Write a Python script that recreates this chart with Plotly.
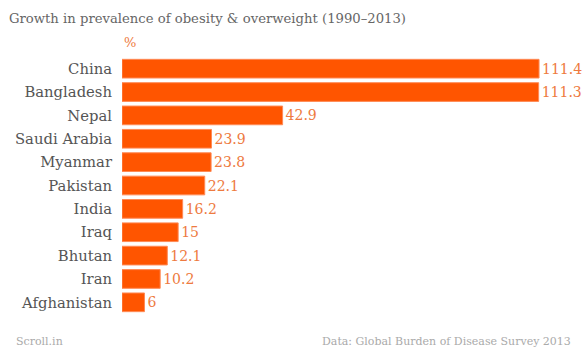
import plotly.graph_objects as go

countries = ["China", "Bangladesh", "Nepal", "Saudi Arabia", "Myanmar", "Pakistan",
             "India", "Iraq", "Bhutan", "Iran", "Afghanistan"]
values = [111.4, 111.3, 42.9, 23.9, 23.8, 22.1, 16.2, 15, 12.1, 10.2, 6]
labels = ["111.4", "111.3", "42.9", "23.9", "23.8", "22.1", "16.2", "15", "12.1", "10.2", "6"]

FONT = "DejaVu Serif"
fig = go.Figure(go.Bar(
    x=values, y=countries, orientation="h",
    marker=dict(color="#FF5500", line=dict(color="#FF8A55", width=1)),
    text=labels, textposition="outside", cliponaxis=False,
    textfont=dict(family=FONT, size=14, color="#EE7A40"),
    width=0.8,
))
fig.update_layout(
    width=584, height=349,
    margin=dict(l=122, r=24, t=57, b=35),
    paper_bgcolor="white", plot_bgcolor="white",
    showlegend=False,
    xaxis=dict(range=[0, 117], visible=False, fixedrange=True),
    yaxis=dict(autorange="reversed", showgrid=False, zeroline=False,
               ticks="", ticklabelstandoff=9,
               tickfont=dict(family=FONT, size=14.8, color="#555555")),
    uniformtext=dict(mode=False),
    annotations=[
        dict(text="Growth in prevalence of obesity &amp; overweight (1990–2013)",
             xref="paper", yref="paper", x=0, xanchor="left", y=1, yanchor="top",
             xshift=-122+7, yshift=57-9, showarrow=False,
             font=dict(family=FONT, size=13.2, color="#666666")),
        dict(text="%", xref="paper", yref="paper", x=0, xanchor="left", y=1, yanchor="bottom",
             yshift=5, showarrow=False,
             font=dict(family=FONT, size=13, color="#EE7A40")),
        dict(text="Scroll.in", xref="paper", yref="paper", x=0, xanchor="left", y=0, yanchor="top",
             xshift=-122+14, yshift=-19, showarrow=False,
             font=dict(family=FONT, size=11, color="#AAAAAA")),
        dict(text="Data: Global Burden of Disease Survey 2013", xref="paper", yref="paper",
             x=1, xanchor="right", y=0, yanchor="top",
             xshift=24-11, yshift=-19, showarrow=False,
             font=dict(family=FONT, size=11, color="#AAAAAA")),
    ],
)
fig.write_html("out.html")
